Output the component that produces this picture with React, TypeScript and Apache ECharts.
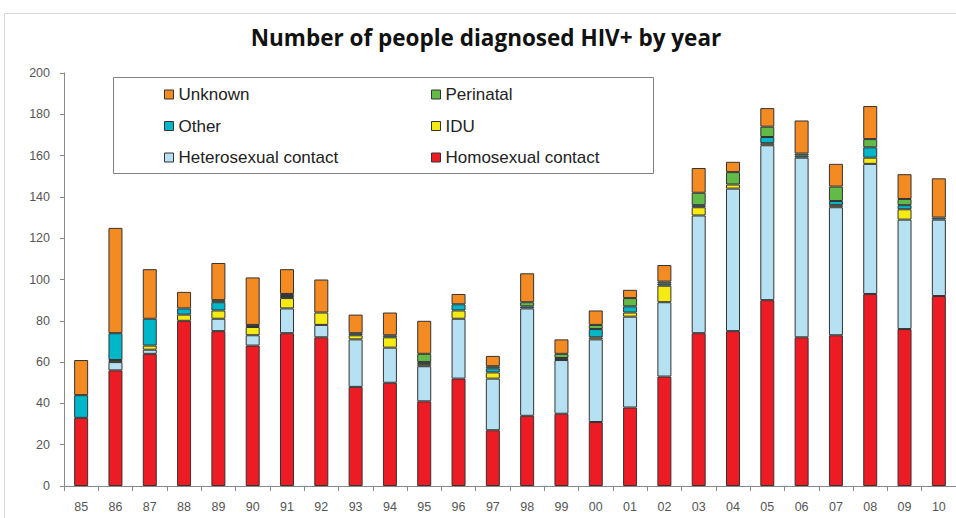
import React, { useEffect, useRef } from "react";
import * as echarts from "echarts";

const years = ["85","86","87","88","89","90","91","92","93","94","95","96","97","98","99","00","01","02","03","04","05","06","07","08","09","10"];
const homosexual = [33,56,64,80,75,68,74,72,48,50,41,52,27,34,35,31,38,53,74,75,90,72,73,93,76,92];
const heterosexual = [0,4,2,0,6,5,12,6,23,17,17,29,25,52,26,40,44,36,57,69,75,87,62,63,53,37];
const idu = [0,1,2,3,4,4,5,6,2,5,1,4,3,0,0,1,2,8,4,2,1,0,1,3,5,0];
const other = [11,13,13,3,4,1,1,0,1,1,1,3,2,1,1,4,3,1,1,0,3,1,2,5,2,1];
const perinatal = [0,0,0,0,1,0,1,0,0,0,4,0,1,2,2,2,4,1,6,6,5,1,7,4,3,0];
const unknown = [17,51,24,8,18,23,12,16,9,11,16,5,5,14,7,7,4,8,12,5,9,16,11,16,12,19];
const yTicks = [0, 200, 20];

const seriesDefs = [
  { name: "Homosexual contact", data: homosexual, color: "#ED1C24" },
  { name: "Heterosexual contact", data: heterosexual, color: "#B5E1F2" },
  { name: "IDU", data: idu, color: "#F5EA14" },
  { name: "Other", data: other, color: "#00B6C9" },
  { name: "Perinatal", data: perinatal, color: "#62BA47" },
  { name: "Unknown", data: unknown, color: "#F38A22" },
];

export default function App() {
  const ref = useRef<HTMLDivElement>(null);
  useEffect(() => {
    if (!ref.current) return;
    const chart = echarts.init(ref.current, null, { renderer: "svg" });
    const legendText = { fontFamily: "Liberation Sans", fontSize: 17, color: "#222" };
    chart.setOption({
      animation: false,
      backgroundColor: "#fff",
      title: {
        text: "Number of people diagnosed HIV+ by year",
        left: 481,
        textAlign: "center",
        top: 21,
        textStyle: { fontFamily: "Open Sans", fontWeight: "bold", fontSize: 22.5, color: "#111" },
      },
      graphic: [
        { type: "rect", shape: { x: 4.5, y: 13.5, width: 980, height: 540 }, style: { fill: "none", stroke: "#d9d9d9", lineWidth: 1 }, silent: true },
        { type: "rect", shape: { x: 113.5, y: 77.5, width: 540, height: 96 }, style: { fill: "#fff", stroke: "#808080", lineWidth: 1 }, silent: true, z: -1 },
      ],
      legend: [
        {
          data: ["Unknown", "Other", "Heterosexual contact"],
          orient: "vertical",
          left: 159,
          top: 81,
          itemWidth: 9,
          itemHeight: 9,
          itemGap: 14.5,
          icon: "rect",
          textStyle: legendText,
          itemStyle: { borderColor: "#333", borderWidth: 1 },
          selectedMode: false,
        },
        {
          data: ["Perinatal", "IDU", "Homosexual contact"],
          orient: "vertical",
          left: 426,
          top: 81,
          itemWidth: 9,
          itemHeight: 9,
          itemGap: 14.5,
          icon: "rect",
          textStyle: legendText,
          itemStyle: { borderColor: "#333", borderWidth: 1 },
          selectedMode: false,
        },
      ],
      grid: { left: 64, right: -2, top: 73, bottom: 32, containLabel: false },
      xAxis: {
        type: "category",
        data: years,
        axisLine: { show: true, lineStyle: { color: "#888", width: 1 } },
        axisTick: { show: true, length: 5, lineStyle: { color: "#888" } },
        axisLabel: { fontFamily: "Liberation Sans", fontSize: 12.5, color: "#555", margin: 14 },
      },
      yAxis: {
        type: "value",
        min: yTicks[0],
        max: yTicks[1],
        interval: yTicks[2],
        axisLine: { show: true, lineStyle: { color: "#888", width: 1 } },
        axisTick: { show: true, length: 4, lineStyle: { color: "#888" } },
        splitLine: { show: false },
        axisLabel: { fontFamily: "Liberation Sans", fontSize: 12.5, color: "#555", margin: 14 },
      },
      series: seriesDefs.map((s) => ({
        name: s.name,
        type: "bar",
        stack: "total",
        barWidth: 14,
        data: s.data.map((v) => (v === 0 ? null : v)),
        itemStyle: { color: s.color, borderColor: "#333", borderWidth: 1 },
      })),
    });
    return () => chart.dispose();
  }, []);
  return <div ref={ref} style={{ position: "fixed", left: 0, top: 0, width: 956, height: 518 }} />;
}
